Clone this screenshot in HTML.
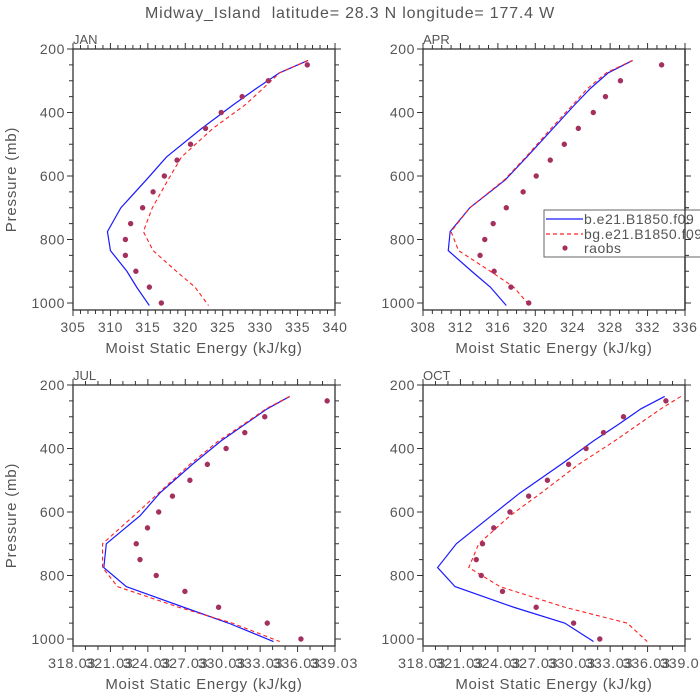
<!DOCTYPE html>
<html><head><meta charset="utf-8"><style>
body{margin:0;background:#fff}
svg{display:block;font-family:"Liberation Sans",sans-serif}
text{white-space:pre}
</style></head><body>
<svg id="chart" width="700" height="700" viewBox="0 0 700 700" xmlns="http://www.w3.org/2000/svg">
<text x="350" y="18" text-anchor="middle" font-size="16" letter-spacing="0.8" fill="#555">Midway_Island  latitude= 28.3 N longitude= 177.4 W</text>
<g id="panels"></g>
<g id="legend">
 <rect x="544" y="210" width="170" height="47" fill="#fff" stroke="#666" stroke-width="1"/>
 <line x1="546" y1="219" x2="583" y2="219" stroke="#1a1aff" stroke-width="1.3"/>
 <text x="584" y="224" font-size="14" letter-spacing="0.5" fill="#555">b.e21.B1850.f09</text>
 <line x1="546" y1="234" x2="583" y2="234" stroke="#ff2020" stroke-width="1.2" stroke-dasharray="4,3"/>
 <text x="584" y="239" font-size="14" letter-spacing="0.5" fill="#555">bg.e21.B1850.f09</text>
 <circle cx="565" cy="248" r="2.6" fill="#a3305e"/>
 <text x="584" y="253" font-size="14" letter-spacing="0.5" fill="#555">raobs</text>
</g>
<g id="overlay"></g>
</svg>
<script>
const modelLevels=[236,275,324,376,450,540,612,700,775,835,900,950,1008];
const obsLevels=[250,300,350,400,450,500,550,600,650,700,750,800,850,900,950,1000];
const janB=[336.4,332.6,329.5,326.4,322.2,317.5,314.8,311.4,309.6,310.0,312.2,313.5,315.2];
const janBG=[336.4,332.6,330.4,328.0,323.7,319.5,317.7,315.6,314.4,315.7,318.8,321.3,323.1];
const janObs=[336.3,331.1,327.6,324.8,322.7,320.7,318.9,317.2,315.7,314.3,312.7,312.0,312.0,313.4,315.2,316.8];
const aprB=[330.4,327.8,325.9,324.2,321.9,319.1,316.8,313.0,310.9,310.7,313.2,315.2,316.9];
const aprBG=[330.4,327.6,325.6,324.0,321.7,319.0,316.7,313.0,311.0,311.8,315.2,317.7,319.4];
const aprObs=[333.5,329.1,327.5,326.2,324.6,323.1,321.6,320.1,318.7,316.9,315.5,314.6,314.1,315.6,317.4,319.3];
const julB=[335.4,333.6,331.8,329.9,327.6,325.0,323.4,320.7,320.5,322.3,326.9,330.5,334.1];
const julBG=[335.4,333.5,331.7,329.7,327.4,324.9,322.9,320.4,320.4,321.6,326.5,330.8,334.6];
const julObs=[338.4,333.4,331.8,330.3,328.8,327.4,326.0,324.9,324.0,323.1,323.4,324.7,327.0,329.7,333.6,336.3];
const octB=[337.4,335.5,333.7,331.7,329.1,325.8,323.5,320.7,319.2,320.6,325.3,329.4,331.7];
const octBG=[338.7,337.1,335.3,333.4,330.5,327.5,325.0,322.5,321.7,324.2,329.4,334.4,336.0];
const octObs=[337.5,334.1,332.5,331.1,329.7,328.0,326.5,325.0,323.7,322.8,322.3,322.7,324.4,327.1,330.1,332.2];
const pTicks=[200,400,600,800,1000];

const NS="http://www.w3.org/2000/svg";
const root=document.getElementById('panels');
function mk(tag,attrs,parent){const e=document.createElementNS(NS,tag);for(const k in attrs)e.setAttribute(k,attrs[k]);(parent||root).appendChild(e);return e;}

const panels=[
 {name:'jan',label:'JAN',x0:73,y0:49,xmin:305,xmax:340,major:5,minor:1,dec:0,b:janB,bg:janBG,obs:janObs,ylab:true},
 {name:'apr',label:'APR',x0:423,y0:49,xmin:308,xmax:336,major:4,minor:1,dec:0,b:aprB,bg:aprBG,obs:aprObs,ylab:false},
 {name:'jul',label:'JUL',x0:73,y0:385,xmin:318.03,xmax:339.03,major:3,minor:1,dec:2,b:julB,bg:julBG,obs:julObs,ylab:true},
 {name:'oct',label:'OCT',x0:423,y0:385,xmin:318.03,xmax:339.03,major:3,minor:1,dec:2,b:octB,bg:octBG,obs:octObs,ylab:false}
];
const W=262, PX=254/800;
panels.forEach(P=>{
 const g=mk('g',{});
 
 
 const xs=v=>P.x0+(v-P.xmin)/(P.xmax-P.xmin)*W;
 const ys=p=>P.y0+(p-200)*PX;
 const yb=ys(1022);
 const fr=mk('rect',{x:P.x0,y:P.y0,width:W,height:yb-P.y0,fill:'none',stroke:'#333','stroke-width':1.3},g);
 
 
 for(let p=200;p<=1000;p+=50){
  const maj=p%200===0, L=maj?6:4, y=ys(p);
  mk('line',{x1:P.x0-L,y1:y,x2:P.x0,y2:y,stroke:'#333','stroke-width':1},g);
  mk('line',{x1:P.x0+W,y1:y,x2:P.x0+W+L,y2:y,stroke:'#333','stroke-width':1},g);
 }
 pTicks.forEach(p=>{
  const t=mk('text',{x:P.x0-8,y:ys(p)+5,'text-anchor':'end','font-size':14,'letter-spacing':0.6,fill:'#555'},g);
  t.textContent=p;
  
  
 });
 const n=Math.round((P.xmax-P.xmin)/P.minor);
 for(let i=0;i<=n;i++){
  const v=P.xmin+i*P.minor, x=xs(v), maj=(i*P.minor)%P.major===0, L=maj?6:4;
  mk('line',{x1:x,y1:yb,x2:x,y2:yb+L,stroke:'#333','stroke-width':1},g);
  mk('line',{x1:x,y1:P.y0-L,x2:x,y2:P.y0,stroke:'#333','stroke-width':1},g);
  if(maj){
   const t=mk('text',{x:x,y:yb+22,'text-anchor':'middle','font-size':14,'letter-spacing':0.6,fill:'#555'},g);
   t.textContent=v.toFixed(P.dec);
   if(P.dec) {t.setAttribute('x',x-1);t.setAttribute('textLength','48');t.setAttribute('lengthAdjust','spacingAndGlyphs');t.setAttribute('style','paint-order:stroke;stroke:#fff;stroke-width:0');}
   
   
  }
 }
 const xl=mk('text',{x:P.x0+W/2,y:yb+43,'text-anchor':'middle','font-size':15,'letter-spacing':0.7,fill:'#555'},g);
 xl.textContent='Moist Static Energy (kJ/kg)';
 
 
 const pl=mk('text',{x:P.x0,y:P.y0-5,'font-size':13,fill:'#555'},g);
 pl.textContent=P.label;
 
 
 if(P.ylab){
  const yl=mk('text',{x:0,y:0,'text-anchor':'middle','font-size':15,'letter-spacing':0.8,fill:'#555',transform:`translate(16,${(P.y0+yb)/2}) rotate(-90)`},g);
  yl.textContent='Pressure (mb)';
  
  
 }
 const lb=mk('polyline',{points:P.b.map((v,i)=>xs(v)+','+ys(modelLevels[i])).join(' '),fill:'none',stroke:'#1a1aff','stroke-width':1.2},g);
 
 
 const lg=mk('polyline',{points:P.bg.map((v,i)=>xs(v)+','+ys(modelLevels[i])).join(' '),fill:'none',stroke:'#ff2020','stroke-width':1.1,'stroke-dasharray':'4,3'},g);
 
 
 P.obs.forEach((v,i)=>{
  const c=mk('circle',{cx:xs(v),cy:ys(obsLevels[i]),r:2.7,fill:'#a3305e'},g);
  
  
 });
});
const ov=document.getElementById('overlay');
const ax=mk('line',{x1:685,y1:49,x2:685,y2:49+822*PX,stroke:'#333','stroke-width':1.3},ov);


for(let p=700;p<=850;p+=50){const y=49+(p-200)*PX;const L=p%200===0?6:4;mk('line',{x1:685,y1:y,x2:685+L,y2:y,stroke:'#333'},ov);}
</script>
</body></html>
